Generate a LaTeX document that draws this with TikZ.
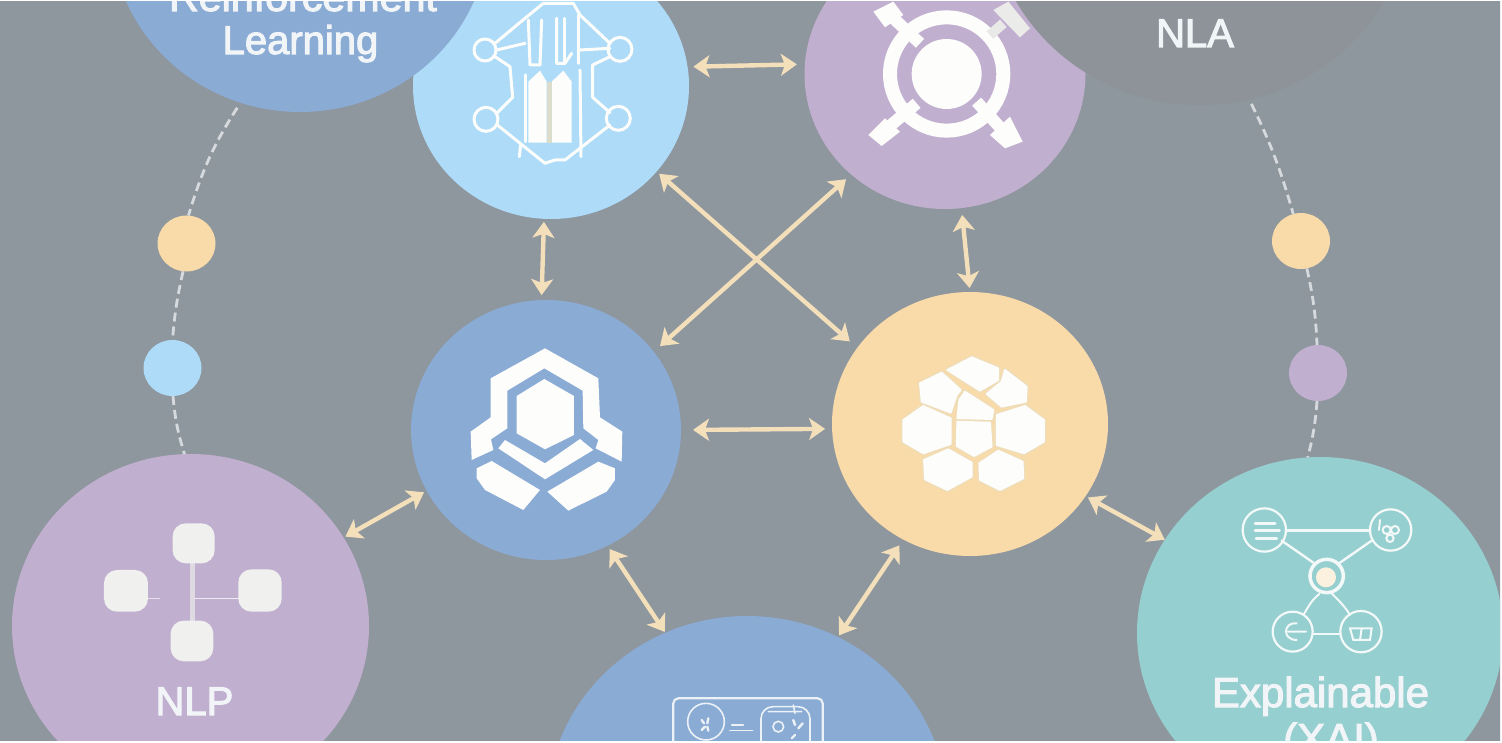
\documentclass[tikz,border=0pt]{standalone}
\usepackage{fontspec}
\setmainfont{Liberation Sans}
\newfontfamily\lblfont[FakeBold=2.6]{Liberation Sans}
\usetikzlibrary{arrows.meta,shapes.geometric}
\definecolor{bgc}{HTML}{8E969E}
\definecolor{nlac}{HTML}{8D9399}
\definecolor{blc}{HTML}{8AABD4}
\definecolor{skyc}{HTML}{AEDCF8}
\definecolor{purc}{HTML}{C1AFD0}
\definecolor{yelc}{HTML}{F9DBAA}
\definecolor{tealc}{HTML}{96CFD0}
\definecolor{arrc}{HTML}{F3DFBA}
\definecolor{wht}{HTML}{FDFDFC}
\definecolor{txtc}{HTML}{F2F5F8}
\definecolor{dashc}{HTML}{D6DADD}
\definecolor{seamc}{HTML}{EEDDB9}
\tikzset{
  disc/.style={ellipse,inner sep=0pt,outer sep=0pt},
  link/.style={draw=arrc,line width=4.4pt,{Stealth[length=16pt,width=22pt,inset=4pt]}-{Stealth[length=16pt,width=22pt,inset=4pt]}},
  trail/.style={draw=dashc,line width=2.8pt,dash pattern=on 9pt off 5pt},
  lbl/.style={text=txtc,inner sep=0pt,font=\lblfont\fontsize{40}{44}\selectfont,anchor=base},
  biglbl/.style={lbl,font=\lblfont\fontsize{42}{46}\selectfont},
  fine/.style={draw=wht,line width=3pt,line join=round,line cap=round},
  thin/.style={draw=wht!90!tealc,line width=2pt,line cap=round},
  zoomgrid/.style={x=0.3333pt,y=-0.3333pt}
}
\begin{document}
\begin{tikzpicture}[x=1pt,y=-1pt]
\useasboundingbox (0,0) rectangle (1502,743);
\fill[white] (0,0) rectangle (1502,743);
\begin{scope}
\clip (0,2) rectangle (1500,740);
\fill[bgc] (0,0) rectangle (1502,743);

% large discs
\node[disc,fill=skyc,minimum width=276pt,minimum height=266pt] (sky) at (551,86) {};
\node[disc,fill=purc,minimum width=281pt,minimum height=270pt] (pur) at (945,74) {};
\node[disc,fill=blc,minimum width=270pt,minimum height=260pt] (blu) at (546,430) {};
\node[disc,fill=yelc,minimum width=276pt,minimum height=264pt] (yel) at (970,424) {};
\node[disc,fill=purc,minimum width=357pt,minimum height=344pt] (nlp) at (190.5,626) {};
\node[disc,fill=tealc,minimum width=366pt,minimum height=352pt] (xai) at (1320,633) {};
\node[disc,fill=blc,minimum width=400pt,minimum height=384pt] (bot) at (747,808) {};

% small discs
\node[disc,fill=yelc,minimum width=58pt,minimum height=56pt] (d1) at (186.5,243.5) {};
\node[disc,fill=skyc,minimum width=58pt,minimum height=56pt] (d2) at (172.5,368) {};
\node[disc,fill=yelc,minimum width=58pt,minimum height=56pt] (d3) at (1301,241) {};
\node[disc,fill=purc,minimum width=58pt,minimum height=56pt] (d4) at (1318,373) {};

% sky icon
\begin{scope}[shift={(400,0)},zoomgrid]
\draw[fine] (255,150) circle (33) (660,148) circle (36) (258,358) circle (36) (655,355) circle (36);
\draw[fine] (285,130) -- (375,55) -- (430,10) -- (520,10) -- (540,45) -- (630,130);
\draw[fine] (285,170) -- (330,200) -- (338,292) -- (292,338);
\draw[fine] (292,375) -- (435,490) -- (465,480) -- (495,480) -- (630,375);
\draw[fine] (630,170) -- (578,195) -- (578,292) -- (630,338);
\draw[fine] (290,150) -- (375,130);
\draw[fine] (540,150) -- (630,145);
\draw[fine] (385,60) -- (390,195) -- (420,195) -- (425,60);
\draw[fine] (470,55) -- (470,190) -- (495,190) -- (515,160);
\draw[fine] (495,55) -- (495,190);
\draw[fine] (535,45) -- (535,190);
\draw[fine] (540,210) -- (543,470);
\draw[fine] (378,225) -- (378,425);
\draw[fine] (362,435) -- (358,470);
\fill[wht] (385,245) -- (420,212) -- (440,245) -- (440,428) -- (385,428) -- cycle;
\fill[wht] (455,245) -- (490,212) -- (515,245) -- (515,428) -- (455,428) -- cycle;
\fill[seamc!70!skyc] (440,245) rectangle (455,428);
\end{scope}

% purple icon
\begin{scope}[shift={(800,0)},zoomgrid]
\draw[wht,line width=14pt] (440,222) circle (170);
\fill[wht] (440,222) circle (105);
\draw[wht,line width=12pt] (360,130) -- (270,45);
\draw[wht!92!black,line width=10pt] (610,70) -- (570,105);
\draw[wht,line width=12pt] (350,310) -- (250,395);
\draw[wht,line width=12pt] (530,305) -- (625,410);
\fill[wht] (220,35) -- (280,5) -- (310,45) -- (255,82) -- cycle;
\fill[black!7!wht] (580,30) -- (625,5) -- (690,85) -- (660,112) -- cycle;
\fill[wht] (205,405) -- (255,355) -- (300,395) -- (245,438) -- cycle;
\fill[wht] (570,405) -- (630,350) -- (668,425) -- (615,445) -- cycle;
\end{scope}

% blue icon
\begin{scope}[shift={(430,320)},zoomgrid]
\fill[wht,line join=round] (345,85) -- (505,175) -- (510,292) -- (577,335) -- (575,425) -- (497,385) -- (505,360) -- (460,325) -- (458,212) -- (343,145) -- (232,212) -- (232,325) -- (183,358) -- (190,390) -- (125,420) -- (122,335) -- (182,292) -- (182,175) -- cycle;
\fill[wht] (343,177) -- (432,228) -- (432,345) -- (345,388) -- (260,340) -- (260,228) -- cycle;
\fill[wht] (225,360) -- (345,430) -- (450,357) -- (490,390) -- (345,478) -- (205,385) -- cycle;
\fill[wht] (185,423) -- (330,510) -- (280,570) -- (165,510) -- (140,475) -- (140,445) -- cycle;
\fill[wht] (505,425) -- (555,445) -- (555,480) -- (530,515) -- (415,572) -- (352,515) -- cycle;
\end{scope}

% yellow icon
\begin{scope}[shift={(860,320)},zoomgrid]
\tikzset{cell/.style={fill=wht,draw=wht,line width=1.8pt,line join=round,preaction={draw=seamc,line width=4.4pt,line join=round}}}
\path[cell] (335,112) -- (415,145) -- (415,180) -- (360,212) -- (262,150) -- cycle;
\path[cell] (435,150) -- (500,200) -- (498,245) -- (425,260) -- (380,222) -- (425,185) -- cycle;
\path[cell] (245,158) -- (302,210) -- (290,225) -- (272,278) -- (185,245) -- (180,190) -- cycle;
\path[cell] (315,215) -- (400,270) -- (395,297) -- (292,295) -- (298,240) -- cycle;
\path[cell] (190,258) -- (272,295) -- (272,372) -- (190,400) -- (130,365) -- (130,300) -- cycle;
\path[cell] (292,305) -- (390,308) -- (395,380) -- (342,408) -- (290,378) -- cycle;
\path[cell] (410,285) -- (495,258) -- (552,300) -- (552,365) -- (492,400) -- (410,375) -- cycle;
\path[cell] (265,388) -- (335,428) -- (335,470) -- (262,510) -- (195,478) -- (192,420) -- cycle;
\path[cell] (415,392) -- (488,425) -- (490,475) -- (420,510) -- (360,480) -- (358,430) -- cycle;
\end{scope}

% nlp icon
\begin{scope}[shift={(60,500)},zoomgrid]
\draw[black!8!wht!75!purc,line width=5pt] (398,185) -- (398,365);
\draw[wht!75!purc,line width=1.5pt] (405,295) -- (540,295);
\draw[wht!60!purc,line width=1.5pt] (265,295) -- (300,295);
\fill[black!5!wht,rounded corners=13pt] (338,70) rectangle (464,190);
\fill[black!5!wht,rounded corners=13pt] (132,210) rectangle (264,335);
\fill[black!5!wht,rounded corners=13pt] (535,208) rectangle (665,335);
\fill[black!5!wht,rounded corners=13pt] (332,362) rectangle (460,484);
\end{scope}

% xai icon
\begin{scope}[shift={(1180,490)},zoomgrid]
\tikzset{ring/.style={draw=wht!90!tealc,line width=2.2pt}}
\draw[thin,line width=2.6pt] (318,122) -- (570,122);
\draw[thin,line width=2.4pt] (305,152) -- (400,218);
\draw[thin,line width=2.4pt] (575,152) -- (480,218);
\draw[thin] (418,312) .. controls (395,330) and (385,350) .. (372,372);
\draw[thin] (455,310) .. controls (480,335) and (495,350) .. (510,375);
\draw[thin] (400,433) -- (482,433);
\draw[ring] (253,120) circle (65) (632,120) circle (62) (338,425) circle (60) (543,425) circle (62);
\draw[wht!90!tealc,line width=3.5pt] (440,258) circle (50);
\fill[yelc!35!wht] (438,262) circle (30);
\draw[thin,line width=3pt] (225,100) -- (285,100) (225,122) -- (298,122) (228,145) -- (290,145);
\draw[thin] (600,90) -- (597,120) (620,120) circle (12) (645,120) circle (12) (630,145) circle (11);
\draw[thin] (350,400) .. controls (310,395) and (305,450) .. (350,450) (325,425) -- (378,425);
\draw[thin] (510,415) -- (575,415) -- (570,450) -- (520,450) -- cycle (545,415) -- (540,450);
\end{scope}

% bottom icon
\begin{scope}[shift={(620,660)},zoomgrid]
\tikzset{sk/.style={draw=wht!85!blc,line width=1.6pt,line cap=round}}
\draw[wht!85!blc,line width=2.2pt,rounded corners=5pt] (160,300) -- (160,115) -- (608,115) -- (608,300);
\draw[sk] (258,185) circle (55);
\draw[sk,rounded corners=12pt] (423,300) -- (423,140) -- (570,140) -- (570,300);
\draw[sk] (335,195) -- (370,195) (330,212) -- (398,212);
\draw[sk] (445,155) -- (545,155) (520,135) -- (525,160);
\draw[sk,line width=2.4pt] (245,180) -- (252,190) (265,175) -- (262,190) (245,210) -- (255,200) (262,200) -- (265,212);
\draw[sk] (475,200) circle (16);
\draw[sk,line width=2.4pt] (520,180) -- (525,195) (548,190) -- (535,205) (515,235) -- (525,225);
\end{scope}

% overlapping discs
\node[disc,fill=blc,minimum width=378pt,minimum height=364pt] (rl) at (300,-70) {};
\node[disc,fill=nlac,minimum width=422pt,minimum height=406pt] (nla) at (1200,-98) {};

% labels
\node[lbl,xscale=1.03] (t1) at (303,11) {Reinforcement};
\node[lbl] (t2) at (300.5,54) {Learning};
\node[lbl] (t3) at (1195,47) {NLA};
\node[lbl] (t4) at (194.5,715) {NLP};
\node[biglbl] (t5) at (1320.5,707) {Explainable};
\node[biglbl] (t6) at (1331,753) {(XAI)};

% connectors
\draw[link,shorten <=5.9pt,shorten >=8pt] (sky.8.8) -- (pur.176);
\draw[link,shorten <=3pt,shorten >=5pt] (sky.-93.4) -- (blu.92.5);
\draw[link,shorten <=3.4pt,shorten >=9.9pt] (sky.-39.8) -- (yel.146.7);
\draw[link,shorten <=7pt,shorten >=8.4pt] (pur.227.8) -- (blu.36.4);
\draw[link,shorten <=6.9pt,shorten >=4pt] (pur.-83.5) -- (yel.90.8);
\draw[link,shorten <=12pt,shorten >=7pt] (blu.0) -- (yel.182.4);
\draw[link,shorten <=2pt,shorten >=3pt] (nlp.30.2) -- (blu.207);
\draw[link,shorten <=4pt,shorten >=1pt] (blu.-62.7) -- (bot.115.2);
\draw[link,shorten <=7pt,shorten >=2pt] (yel.240.2) -- (bot.62.9);
\draw[link,shorten <=2.7pt,shorten >=0pt] (yel.-32.1) -- (xai.149.5);

% dashed trails
\draw[trail,shorten <=6pt] (rl.-109.2) to[bend right=8] (d1.86);
\draw[trail] (d1.-97) to[bend right=4] (d2.90);
\draw[trail] (d2.-89) to[bend right=6] (nlp.92.8);
\draw[trail,shorten <=5pt] (nla.-76.6) to[bend left=5] (d3.106);
\draw[trail] (d3.-78) to[bend left=5] (d4.92);
\draw[trail] (d4.-92) to[bend left=5] (xai.94.2);
\end{scope}
\end{tikzpicture}
\end{document}
